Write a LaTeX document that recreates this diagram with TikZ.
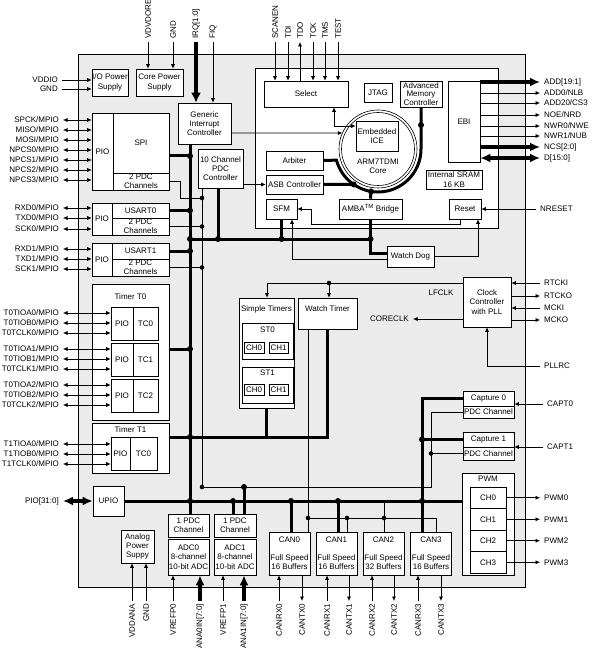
\documentclass[tikz,border=0pt]{standalone}
\usepackage{fontspec}
\setmainfont{Liberation Sans}
\usetikzlibrary{arrows.meta,calc,positioning}
\definecolor{chipgray}{RGB}{235,235,235}
\tikzset{
  blk/.style={draw, fill=white, inner sep=0pt, align=center, line width=0.6pt},
  wire/.style={line width=0.6pt},
  bus/.style={line width=3pt},
  arr/.style={wire, -{Latex[length=4.5pt,width=4pt]}},
  barr/.style={wire, {Latex[length=4.5pt,width=4pt]}-{Latex[length=4.5pt,width=4pt]}},
  fatarr/.style={line width=3.5pt, -{Latex[length=10pt,width=9pt]}},
  fatbarr/.style={line width=3.5pt, {Latex[length=10pt,width=9pt]}-{Latex[length=10pt,width=9pt]}},
  pinl/.style={anchor=east, inner sep=4pt},
  pinr/.style={anchor=west, inner sep=4pt},
  pint/.style={anchor=west, rotate=90, inner sep=3pt},
  pinb/.style={anchor=east, rotate=90, inner sep=3pt},
}
\begin{document}
\begin{tikzpicture}[x=1pt, y=-1pt, font=\fontsize{8}{9.3}\selectfont]
    \useasboundingbox (0,0) rectangle (593,652);

    \draw[line width=0.8pt, fill=chipgray] (78,54) rectangle (525,587);
    \draw[wire, fill=white] (255,68) rectangle (498,228);
    \coordinate (core) at (378,149);
    \draw[wire] (core) circle[radius=39pt];
    \draw[wire] (core) circle[radius=36.5pt];
    \node[align=center] (coretxt) at (378,166) {ARM7TDMI\\Core};

    \node[blk, minimum width=36, minimum height=27] (iops) at (110,82.5) {I/O Power\\Supply};
    \node[blk, minimum width=47, minimum height=27] (cops) at (159.5,82.5) {Core Power\\Supply};
    \node[blk, minimum width=53, minimum height=41] (gic) at (204.5,123.5) {Generic\\Interrupt\\Controller};
    \node[blk, minimum width=45, minimum height=39] (pdcc) at (220.5,168.5) {10 Channel\\PDC\\Controller};

    \node[blk, minimum width=21, minimum height=77] (spipio) at (102.5,151.5) {PIO};
    \node[blk, minimum width=56, minimum height=60] (spi) at (141,143) {SPI};
    \node[blk, minimum width=56, minimum height=17] (spipdc) at (141,181.5) {2 PDC\\Channels};
    \node[blk, minimum width=20, minimum height=32] (us0pio) at (102,219) {PIO};
    \node[blk, minimum width=57, minimum height=15] (us0) at (140.5,210.5) {USART0};
    \node[blk, minimum width=57, minimum height=17] (us0pdc) at (140.5,226.5) {2 PDC\\Channels};
    \node[blk, minimum width=20, minimum height=33] (us1pio) at (102,259.5) {PIO};
    \node[blk, minimum width=57, minimum height=16] (us1) at (140.5,251) {USART1};
    \node[blk, minimum width=57, minimum height=17] (us1pdc) at (140.5,267.5) {2 PDC\\Channels};

    \node[blk, minimum width=77, minimum height=136] (t0) at (130.5,352) {};
    \node[below=6pt of t0.north] (t0title) {Timer T0};
    \foreach \r/\y in {0/323.5, 1/359.5, 2/395.5} {
        \node[blk, minimum width=22, minimum height=33] (t0pio\r) at (122,\y) {PIO};
        \node[blk, minimum width=25, minimum height=33] (t0tc\r) at (145.5,\y) {TC\r};
    }
    \node[blk, minimum width=77, minimum height=50] (t1) at (130.5,448) {};
    \node[below=0pt of t1.north] (t1title) {Timer T1};
    \node[blk, minimum width=19, minimum height=33] (t1pio) at (120.5,453.5) {PIO};
    \node[blk, minimum width=27, minimum height=33] (t1tc) at (143.5,453.5) {TC0};

    \node[blk, minimum width=31, minimum height=30] (upio) at (108.5,501) {UPIO};
    \node[blk, minimum width=33, minimum height=33] (aps) at (137.5,546.5) {Analog\\Power\\Suppy};
    \node[blk, minimum width=41, minimum height=23] (adc0pdc) at (188.5,525.5) {1 PDC\\Channel};
    \node[blk, minimum width=41, minimum height=36] (adc0) at (188.5,557) {ADC0\\8-channel\\10-bit ADC};
    \node[blk, minimum width=42, minimum height=23] (adc1pdc) at (235,525.5) {1 PDC\\Channel};
    \node[blk, minimum width=42, minimum height=36] (adc1) at (235,557) {ADC1\\8-channel\\10-bit ADC};
    \foreach \i/\x/\b in {0/289.5/16, 1/336.5/16, 2/383.5/32, 3/431/16}
        \node[blk, minimum width=41, minimum height=43] (can\i) at (\x,553.5) {CAN\i\\[8pt]Full Speed\\\b{} Buffers};

    \node[blk, minimum width=52, minimum height=102] (pwm) at (488,524) {};
    \node[below=0pt of pwm.north] (pwmtitle) {PWM};
    \foreach \i/\y in {0/497.75, 1/519.25, 2/540.75, 3/562.25}
        \node[blk, minimum width=36, minimum height=21.5] (ch\i) at (488,\y) {CH\i};
    \node[blk, minimum width=51, minimum height=15] (cap0) at (488.5,398.5) {Capture 0};
    \node[blk, minimum width=51, minimum height=12] (cap0pdc) at (488.5,412) {PDC Channel};
    \node[blk, minimum width=51, minimum height=15] (cap1) at (488.5,439.5) {Capture 1};
    \node[blk, minimum width=51, minimum height=13] (cap1pdc) at (488.5,453.5) {PDC Channel};
    \node[blk, minimum width=48, minimum height=50] (clk) at (487,302) {Clock\\Controller\\with PLL};

    \node[blk, minimum width=59, minimum height=31] (wt) at (327.5,313.5) {};
    \node[below=4pt of wt.north] (wttitle) {Watch Timer};
    \node[blk, minimum width=55, minimum height=110] (st) at (266.5,353) {};
    \node[below=4pt of st.north] (sttitle) {Simple Timers};
    \node[blk, minimum width=51, minimum height=36] (st0) at (267.5,341) {};
    \node[below=1pt of st0.north] (st0title) {ST0};
    \node[blk, minimum width=20, minimum height=11] (st0ch0) at (254,347.5) {CH0};
    \node[blk, minimum width=19, minimum height=11] (st0ch1) at (278.5,347.5) {CH1};
    \node[blk, minimum width=51, minimum height=36] (st1) at (267.5,385) {};
    \node[below=0pt of st1.north] (st1title) {ST1};
    \node[blk, minimum width=20, minimum height=11] (st1ch0) at (254,390) {CH0};
    \node[blk, minimum width=19, minimum height=11] (st1ch1) at (278.5,390) {CH1};

    \node[blk, minimum width=84, minimum height=26] (select) at (306,94) {Select};
    \node[blk, minimum width=28, minimum height=19] (jtag) at (378,92.5) {JTAG};
    \node[blk, minimum width=42, minimum height=26, font=\fontsize{8}{8.5}\selectfont] (amc) at (421,94) {Advanced\\Memory\\Controller};
    \node[blk, minimum width=32, minimum height=81] (ebi) at (464,121.5) {EBI};
    \node[blk, minimum width=42, minimum height=30] (ice) at (377,136) {Embedded\\ICE};
    \node[blk, minimum width=57, minimum height=19] (arb) at (294.5,160.5) {Arbiter};
    \node[blk, minimum width=57, minimum height=19] (asb) at (294.5,184.5) {ASB Controller};
    \node[blk, minimum width=56, minimum height=19] (sram) at (454,179.5) {Internal SRAM\\16 KB};
    \node[blk, minimum width=31, minimum height=20] (sfm) at (281.5,209) {SFM};
    \node[blk, minimum width=63, minimum height=20] (amba) at (370.5,209) {AMBA\textsuperscript{TM} Bridge};
    \node[blk, minimum width=32, minimum height=20] (reset) at (465,209) {Reset};
    \node[blk, minimum width=47, minimum height=21] (wd) at (410.5,256.5) {Watch Dog};

    \node[pint] (tVDV) at (148,42) {VDVDORE};
    \node[pint] (tGND) at (173,42) {GND};
    \node[pint] (tIRQ) at (196,42) {IRQ[1:0]};
    \node[pint] (tFIQ) at (213,42) {FIQ};
    \node[pint] (tSCANEN) at (275,42) {SCANEN};
    \node[pint] (tTDI) at (288,42) {TDI};
    \node[pint] (tTDO) at (300,42) {TDO};
    \node[pint] (tTCK) at (313,42) {TCK};
    \node[pint] (tTMS) at (325,42) {TMS};
    \node[pint] (tTEST) at (338,42) {TEST};
    \draw[arr] (tVDV.west) -- (cops.north -| tVDV);
    \draw[arr] (tGND.west) -- (cops.north -| tGND);
    \draw[line width=4.5pt, -{Latex[length=10pt,width=10pt]}] (tIRQ.west) -- (gic.north -| tIRQ);
    \draw[arr] (tFIQ.west) -- (gic.north -| tFIQ);
    \foreach \n in {SCANEN,TDI,TCK,TMS,TEST}
        \draw[arr] (t\n.west) -- (select.north -| t\n);
    \draw[arr] (select.north -| tTDO) -- (tTDO.west);

    \node[pinl] (vddio) at (62,80) {VDDIO};
    \node[pinl] (gndio) at (62,89) {GND};
    \draw[arr] (vddio.east) -- (iops.west |- vddio);
    \draw[arr] (gndio.east) -- (iops.west |- gndio);
    \foreach \n [count=\k] in {SPCK,MISO,MOSI,NPCS0,NPCS1,NPCS2,NPCS3} {
        \node[pinl] (spin\k) at (63,110+10*\k) {\n/MPIO};
        \draw[barr] (spin\k.east) -- (spipio.west |- spin\k);
    }
    \foreach \n/\y in {RXD0/208, TXD0/218, SCK0/229} {
        \node[pinl] (u\n) at (63,\y) {\n/MPIO};
        \draw[barr] (u\n.east) -- (us0pio.west |- u\n);
    }
    \foreach \n/\y in {RXD1/249, TXD1/259, SCK1/269} {
        \node[pinl] (u\n) at (63,\y) {\n/MPIO};
        \draw[barr] (u\n.east) -- (us1pio.west |- u\n);
    }
    \foreach \r in {0,1,2}
        \foreach \s [count=\k] in {TIOA,TIOB,TCLK} {
            \node[pinl] (p\r\s) at (63,303+36*\r+10*\k) {T0\s\r/MPIO};
            \draw[barr] (p\r\s.east) -- (t0pio\r.west |- p\r\s);
        }
    \foreach \s [count=\k] in {TIOA,TIOB,TCLK} {
        \node[pinl] (q\s) at (63,434+10*\k) {T1\s0/MPIO};
        \draw[barr] (q\s.east) -- (t1pio.west |- q\s);
    }
    \node[pinl] (pio) at (63,501) {PIO[31:0]};
    \draw[fatbarr] (pio.east) -- (upio.west);

    \node[pinr] (add) at (540,82) {ADD[19:1]};
    \node[pinr] (nlb) at (540,93) {ADD0/NLB};
    \node[pinr] (cs3) at (540,103) {ADD20/CS3};
    \node[pinr] (nrd) at (540,115) {NOE/NRD};
    \node[pinr] (nwe) at (540,126) {NWR0/NWE};
    \node[pinr] (nub) at (540,136) {NWR1/NUB};
    \node[pinr] (ncs) at (540,147) {NCS[2:0]};
    \node[pinr] (dbus) at (540,158) {D[15:0]};
    \draw[fatarr] (ebi.east |- add) -- (add.west);
    \foreach \n in {nlb,cs3,nrd,nwe,nub}
        \draw[arr] (ebi.east |- \n) -- (\n.west);
    \draw[fatarr] (ebi.east |- ncs) -- (ncs.west);
    \draw[fatbarr] (ebi.east |- dbus) -- (dbus.west);

    \node[pinr] (nreset) at (536,209) {NRESET};
    \node[pinr] (rtcki) at (540,283) {RTCKI};
    \node[pinr] (rtcko) at (540,296) {RTCKO};
    \node[pinr] (mcki) at (540,308) {MCKI};
    \node[pinr] (mcko) at (540,320) {MCKO};
    \node[pinr] (pllrc) at (540,366) {PLLRC};
    \node[pinr] (capt0) at (543,404) {CAPT0};
    \node[pinr] (capt1) at (543,447) {CAPT1};
    \draw[arr] (nreset.west) -- (reset.east);
    \draw[arr] (rtcki.west) -- (clk.east |- rtcki);
    \draw[arr] (clk.east |- rtcko) -- (rtcko.west);
    \draw[arr] (mcki.west) -- (clk.east |- mcki);
    \draw[arr] (clk.east |- mcko) -- (mcko.west);
    \draw[arr] (pllrc.west) -| (clk.south);
    \draw[arr] (capt0.west) -- (cap0.east |- capt0);
    \draw[arr] (capt1.west) -- (cap1.east |- capt1);
    \foreach \i in {0,...,3} {
        \node[pinr] (pwmo\i) at (540,0 |- ch\i) {PWM\i};
        \draw[arr] (ch\i.east) -- (pwmo\i.west);
    }

    \node[pinb] (bVDDANA) at (132,601) {VDDANA};
    \node[pinb] (bGND) at (146,601) {GND};
    \node[pinb] (bVREFP0) at (173,601) {VREFP0};
    \node[pinb] (bANA0) at (200,601) {ANA0IN[7:0]};
    \node[pinb] (bVREFP1) at (223,601) {VREFP1};
    \node[pinb] (bANA1) at (244,601) {ANA1IN[7:0]};
    \draw[arr] (bVDDANA.east) -- (aps.south -| bVDDANA);
    \draw[arr] (bGND.east) -- (aps.south -| bGND);
    \draw[arr] (bVREFP0.east) -- (adc0.south -| bVREFP0);
    \draw[fatarr] (bANA0.east) -- (adc0.south -| bANA0);
    \draw[arr] (bVREFP1.east) -- (adc1.south -| bVREFP1);
    \draw[fatarr] (bANA1.east) -- (adc1.south -| bANA1);
    \foreach \i/\rx/\tx in {0/279/302, 1/327/349, 2/372/394, 3/418/441} {
        \node[pinb] (rx\i) at (\rx,601) {CANRX\i};
        \node[pinb] (tx\i) at (\tx,601) {CANTX\i};
        \draw[arr] (rx\i.east) -- (can\i.south -| rx\i);
        \draw[arr] (can\i.south -| tx\i) -- (tx\i.east);
    }

    \draw[arr] (gic.east |- 0,133) -- ($(core)+(204.2:39)$);
    \draw[barr] (select.south -| 334,0) |- (ice.west |- 0,126);
    \draw[arr] (pdcc.east |- asb.west) -- (asb.west);
    \coordinate (asbj) at ($(core)+(124.4:43)$);
    \coordinate (ambaj) at ($(core)+(99.4:43)$);
    \draw[bus] (amc.south) -- ($(core)+(0:43)$) arc[start angle=0, end angle=165, radius=43] -- (arb.east);
    \draw[bus] (asb.east) -- (asbj);
    \draw[bus] (amba.north) -- (ambaj);
    \fill (asbj) circle[radius=3pt];
    \fill (ambaj) circle[radius=3pt];
    \fill (421,125) circle[radius=3pt];

    \draw[arr] (reset.south -| 460,0) |- (311,224) |- (sfm.east);
    \draw[bus] (amba.south) |- (wd.west |- 0,253);
    \draw[arr] (wd.west |- 0,259) -| (sfm.south -| 292,0);
    \draw[arr] (wd.east) -| (reset.south -| 478,0);

    \draw[bus] (gic.south -| 190,0) -- (adc0pdc.north -| 190,0);
    \draw[bus] (190,239) -- (amba.south |- 0,239);
    \draw[bus] (sfm.south) -- (sfm.south |- 0,239);
    \draw[bus] (pdcc.south -| 218,0) -- (218,239);
    \draw[wire] (pdcc.south -| 202,0) -- (202,487) -- (431,487) |- (cap0pdc.west);
    \draw[wire] (431,453.5) -- (cap1pdc.west);

    \draw[bus] (spi.east |- 0,156) -- (190,156);
    \draw[wire] (spipdc.east) -| (180,198) -- (202,198);
    \draw[bus] (us0.east) -- (190,210.5);
    \draw[wire] (us0pdc.east) -- (202,226.5);
    \draw[bus] (us1.east) -- (190,251);
    \draw[wire] (us1pdc.east) -- (202,267.5);
    \draw[bus] (t0.east |- 0,349) -- (190,349);
    \draw[bus] (t1.east |- 0,437) -| (wt.south -| 327,0);
    \draw[bus] (st.south) -- (st.south |- 0,437);

    \draw[arr] (clk.west |- 0,283) -| (st.north -| 267,0);
    \draw[arr] (329,283) -- (wt.north -| 329,0);
    \node (lfclk) at (441,293) {LFCLK};
    \node[pinl] (coreclk) at (413,319) {CORECLK};
    \draw[arr] (clk.west |- coreclk) -- (coreclk.east);

    \draw[wire] (wt.south -| 308,0) -- (can0.north -| 308,0);
    \draw[wire] (308,518) -| (can3.north -| 436,0);
    \draw[wire] (347,518) -- (can1.north -| 347,0);
    \draw[wire] (384,501) -- (can2.north -| 384,0);
    \draw[bus] (upio.east) -- (pwm.west |- upio.east);
    \draw[bus] (233,501) -- (adc1pdc.north -| 233,0);
    \draw[bus] (244,487) -- (adc1pdc.north -| 244,0);
    \draw[bus] (291,501) -- (can0.north -| 291,0);
    \draw[bus] (338,501) -- (can1.north -| 338,0);
    \draw[bus] (cap0.west) -| (can3.north -| 422,0);
    \draw[bus] (cap1.west) -- (422,439.5);

    \foreach \p in {(190,156), (190,210.5), (190,239), (218,239), (281.5,239), (370.5,239), (190,251), (190,349), (190,437), (190,501), (233,501), (244,487), (291,501), (338,501), (422,501), (422,439.5)}
        \fill \p circle[radius=3pt];
    \foreach \p in {(202,198), (202,226.5), (202,267.5), (202,487), (431,453.5), (329,283), (308,518), (347,518), (384,518)}
        \fill \p circle[radius=2.3pt];
\end{tikzpicture}
\end{document}
